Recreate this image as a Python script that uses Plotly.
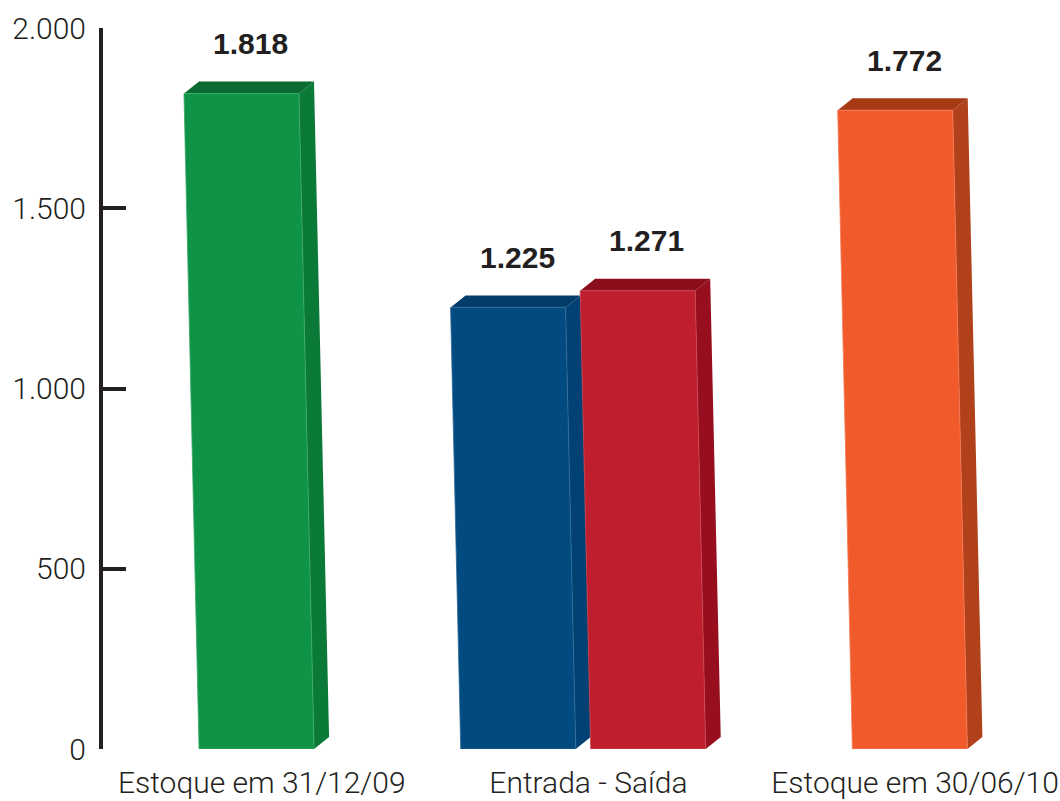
import plotly.graph_objects as go

# ---------------- data ----------------
categories = ["Estoque em 31/12/09", "Entrada - Saída", "Estoque em 30/06/10"]
bar_names = ["Estoque em 31/12/09", "Entrada", "Saída", "Estoque em 30/06/10"]
bar_values = [1818, 1225, 1271, 1772]
bar_group = [0, 1, 1, 2]
y_tick_vals = [0, 500, 1000, 1500, 2000]

# ---------------- styles ----------------
front_colors = ["#0f9447", "#024b80", "#be1e2d", "#f15a2b"]
edge_colors = ["#3aa96a", "#2f6a96", "#cc4854", "#f47a55"]
top_colors = ["#0a6a31", "#033c68", "#8a0e1b", "#a63a15"]
side_colors = ["#0b7a38", "#024173", "#970f1e", "#b0411a"]
TEXT = "#231f20"
FONT = "Roboto"

W, H = 1060, 801
ML, MR, MT, MB = 103, 0, 28, 52
plot_w = W - ML - MR
plot_h = H - MT - MB
X_MAX = 8.32
Y_MAX = 2000
px_x = plot_w / X_MAX          # pixels per x unit
px_y = plot_h / Y_MAX          # pixels per y unit

DEPTH_X = 15 / px_x            # 3D depth offsets (converted to data units)
DEPTH_Y = 12 / px_y
LEAN = 0.023                   # horizontal lean per pixel of height
BAR_W = 1.0

group_center = [1.335 + 2.84 * g for g in range(len(categories))]
pair_offset = 0.565


def fmt(v):
    return f"{v:,}".replace(",", ".")


# bar centre positions
counts = {}
for g in bar_group:
    counts[g] = counts.get(g, 0) + 1
seen = {}
bar_x = []
for g in bar_group:
    k = seen.get(g, 0)
    seen[g] = k + 1
    if counts[g] == 1:
        bar_x.append(group_center[g])
    else:
        bar_x.append(group_center[g] + (-pair_offset if k == 0 else pair_offset))

fig = go.Figure()

for i, v in enumerate(bar_values):
    xl = bar_x[i] - BAR_W / 2
    xr = bar_x[i] + BAR_W / 2
    lean = LEAN * v * px_y / px_x
    tl, tr = xl - lean, xr - lean
    # side face
    fig.add_trace(go.Scatter(
        x=[xr, xr + DEPTH_X, tr + DEPTH_X, tr, xr],
        y=[0, DEPTH_Y, v + DEPTH_Y, v, 0],
        fill="toself", fillcolor=side_colors[i], mode="lines",
        line=dict(width=0), hoverinfo="skip", showlegend=False))
    # top face
    fig.add_trace(go.Scatter(
        x=[tl, tr, tr + DEPTH_X, tl + DEPTH_X, tl],
        y=[v, v, v + DEPTH_Y, v + DEPTH_Y, v],
        fill="toself", fillcolor=top_colors[i], mode="lines",
        line=dict(width=0), hoverinfo="skip", showlegend=False))
    # front face
    fig.add_trace(go.Scatter(
        x=[xl, xr, tr, tl, xl],
        y=[0, 0, v, v, 0],
        fill="toself", fillcolor=front_colors[i], mode="lines",
        line=dict(width=0.8, color=edge_colors[i]), name=bar_names[i],
        hovertemplate=f"{bar_names[i]}: {fmt(v)}<extra></extra>",
        showlegend=False))
    fig.add_annotation(
        x=(tl + tr) / 2 + DEPTH_X * 0.6, y=v, text=f"<b>{fmt(v)}</b>",
        showarrow=False, yanchor="middle", yshift=50,
        font=dict(family="Liberation Sans", size=30, color=TEXT))

# invisible trace to activate the tick-mark axis
fig.add_trace(go.Scatter(x=[0], y=[0], yaxis="y2", mode="markers",
                         marker=dict(opacity=0), hoverinfo="skip",
                         showlegend=False))

tick_x = [c + DEPTH_X / 2 - 0.02 for c in group_center]

fig.update_layout(
    width=W, height=H,
    margin=dict(l=ML, r=MR, t=MT, b=MB, autoexpand=False),
    paper_bgcolor="white", plot_bgcolor="white",
    xaxis=dict(range=[0, X_MAX], showgrid=False, zeroline=False,
               showline=False, ticks="", tickvals=tick_x,
               ticktext=categories, ticklabelstandoff=13,
               tickfont=dict(family=FONT, size=30, color=TEXT, weight=300)),
    yaxis=dict(range=[0, Y_MAX], showgrid=False, zeroline=False,
               showline=True, linewidth=4, linecolor=TEXT, ticks="",
               tickvals=y_tick_vals, ticktext=[fmt(v) for v in y_tick_vals],
               ticklabelstandoff=7,
               tickfont=dict(family=FONT, size=30, color=TEXT, weight=300)),
    yaxis2=dict(range=[0, Y_MAX], overlaying="y", side="left",
                showgrid=False, zeroline=False, showline=False,
                ticks="inside", ticklen=23, tickwidth=4, tickcolor=TEXT,
                tickvals=y_tick_vals[1:], showticklabels=False),
)

fig.write_html(
    "out.html",
    config={"displayModeBar": False},
    post_script="document.body.style.margin='0';"
                "document.body.style.overflow='hidden';",
)
